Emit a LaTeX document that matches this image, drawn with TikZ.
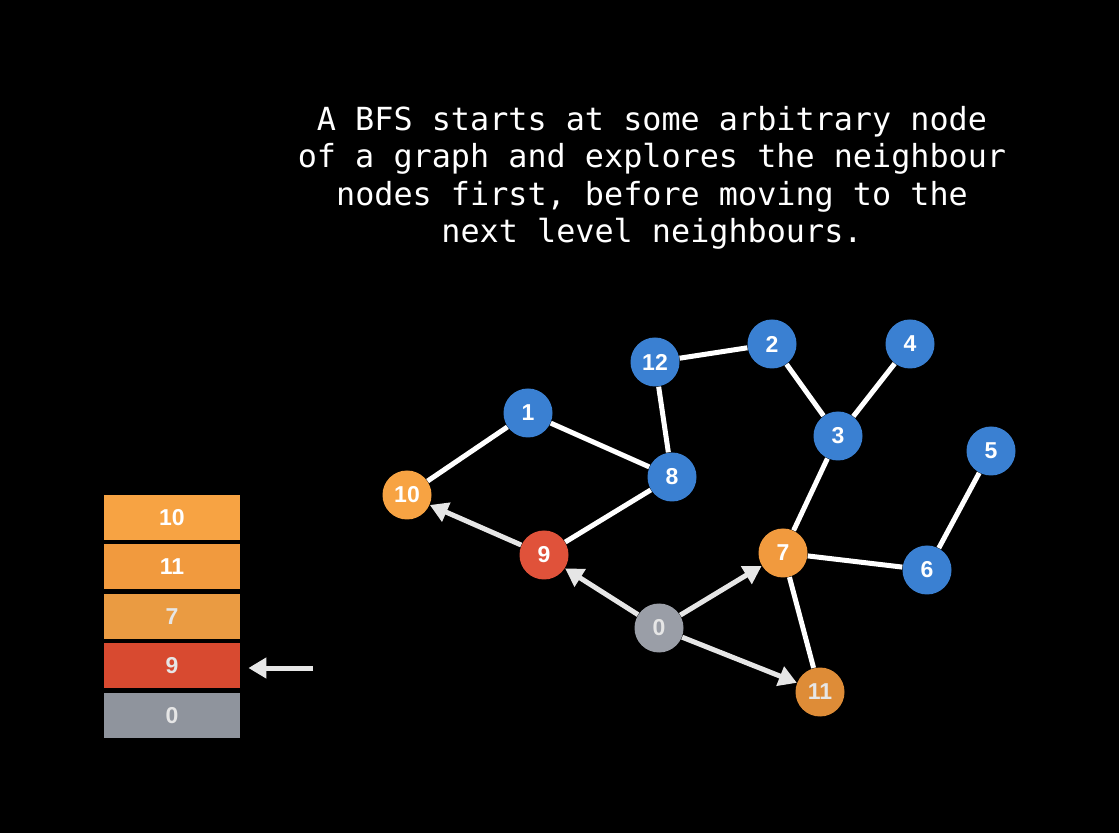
\documentclass[tikz,border=0pt]{standalone}
\usepackage{fontspec}
\usepackage{tikz}
\newfontfamily\monofont{DejaVu Sans Mono}
\newfontfamily\labelfont{Liberation Sans}
\usetikzlibrary{arrows.meta, positioning}

\definecolor{nodeblue}{HTML}{3A80D2}
\definecolor{nodeorange}{HTML}{F7A343}
\definecolor{nodeamber}{HTML}{F19A3E}
\definecolor{nodebrown}{HTML}{DE8C37}
\definecolor{nodered}{HTML}{E0523A}
\definecolor{nodegrey}{HTML}{9A9EA7}
\definecolor{cellred}{HTML}{D84A30}
\definecolor{cellgrey}{HTML}{8F949D}
\definecolor{cellamber}{HTML}{EA9B42}
\definecolor{arrowgrey}{HTML}{E6E6E6}

\begin{document}
\begin{tikzpicture}[x=0.5pt, y=-0.5pt, >={Triangle[length=9pt, width=10pt]}]
	\tikzstyle{vertex} = [circle, minimum size=24.5pt, inner sep=0pt, text=white, font=\labelfont\bfseries\fontsize{11.5}{12}\selectfont]
	\tikzstyle{cell} = [rectangle, minimum width=68pt, minimum height=22.5pt, inner sep=0pt, text=white, font=\labelfont\bfseries\fontsize{11.5}{12}\selectfont]
	\tikzstyle{link} = [draw=white, line width=2.5pt]
	\tikzstyle{visit} = [color=arrowgrey, line width=2.5pt, ->]

	\fill[black] (0,0) rectangle (1119,833);

	\node[text=white, align=center, font=\monofont\fontsize{15.9}{18.75}\selectfont] (caption) at (652,178)
		{A BFS starts at some arbitrary node\\of a graph and explores the neighbour\\nodes first, before moving to the\\next level neighbours.};

	% graph
	\begin{scope}
		\path
			node[vertex, fill=nodeblue] (12) at (655,362) {12}
			node[vertex, fill=nodeblue] (2) at (772,344) {2}
			node[vertex, fill=nodeblue] (4) at (910,344) {4}
			node[vertex, fill=nodeblue] (1) at (528,413) {1}
			node[vertex, fill=nodeblue] (3) at (838,436) {3}
			node[vertex, fill=nodeblue] (5) at (991,451) {5}
			node[vertex, fill=nodeblue] (8) at (672,477) {8}
			node[vertex, fill=nodeorange] (10) at (407,495) {10}
			node[vertex, fill=nodered] (9) at (544,555) {9}
			node[vertex, fill=nodeamber] (7) at (783,553) {7}
			node[vertex, fill=nodeblue] (6) at (927,570) {6}
			node[vertex, fill=nodegrey, text=arrowgrey] (0) at (659,628) {0}
			node[vertex, fill=nodebrown, text=arrowgrey] (11) at (820,692) {11}
		;
		\path[link]
			(10) edge (1)
			(1) edge (8)
			(8) edge (9)
			(8) edge (12)
			(12) edge (2)
			(2) edge (3)
			(3) edge (4)
			(3) edge (7)
			(7) edge (6)
			(6) edge (5)
			(7) edge (11)
		;
		\path[visit]
			(9) edge (10)
			(0) edge (9)
			(0) edge (7)
			(0) edge (11)
		;
	\end{scope}

	% queue
	\begin{scope}
		\path
			node[cell, fill=nodeorange] (q10) at (172,517.5) {10}
			node[cell, fill=nodeamber] (q11) at (172,566.5) {11}
			node[cell, fill=cellamber, text=arrowgrey] (q7) at (172,616.5) {7}
			node[cell, fill=cellred, text=arrowgrey] (q9) at (172,665.5) {9}
			node[cell, fill=cellgrey, text=arrowgrey] (q0) at (172,715.5) {0}
		;
		\coordinate (front) at (313,668);
		\draw[visit, shorten >=4pt] (front) -- (q9.east |- front);
	\end{scope}
\end{tikzpicture}
\end{document}
